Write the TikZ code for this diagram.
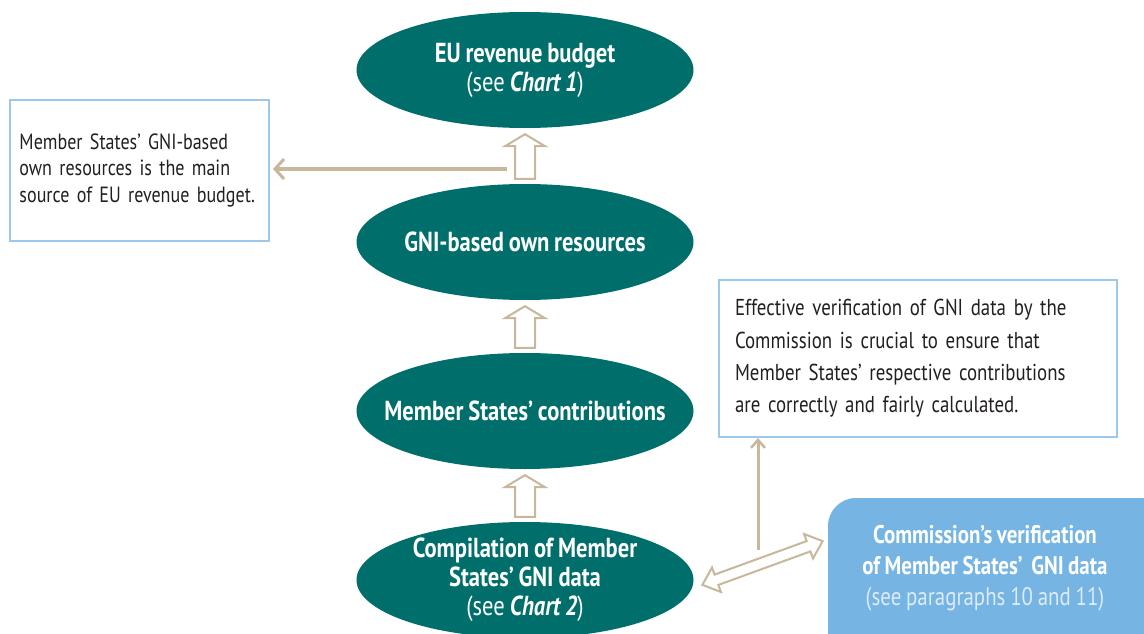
\documentclass[tikz,border=0pt]{standalone}
\usepackage{fontspec}
\setmainfont{PT Sans}[FakeStretch=0.82,WordSpace=0.85]
\usetikzlibrary{calc,arrows.meta,shapes.geometric}
\definecolor{teal}{HTML}{006F6B}
\definecolor{tanc}{HTML}{C8B79A}
\definecolor{boxblue}{HTML}{9CC8EC}
\definecolor{fillblue}{HTML}{76B5E3}
\definecolor{txt}{HTML}{231F20}
\definecolor{paler}{HTML}{DCEBF7}
\tikzset{
  oval/.style={ellipse, fill=teal, text=white, minimum width=337pt, minimum height=116pt, inner xsep=-80pt, inner ysep=-30pt, align=center, font=\fontsize{27.5}{29}\selectfont\bfseries},
  hollow/.style={draw=tanc, line width=2pt, fill=white, line join=miter},
  note/.style={draw=boxblue, line width=2pt, fill=white, text=txt, align=left},
}
\newcommand\hollowup[2]{%
  \draw[hollow] ($(#2.south)+(0,6)$) -- ++(20,12) -- ++(-10,0) -- ($(#1.north)+(10,-5)$) -- ++(-20,0) -- ($(#2.south)+(-10,18)$) -- ++(-10,0) -- cycle;}
\begin{document}
\begin{tikzpicture}[x=1pt,y=-1pt]
\useasboundingbox (0,0) rectangle (1144,634);
% ellipses
\node[oval] (e1) at (525,70) {EU revenue budget\\{\mdseries (see \textbf{\textit{Chart 1}})}};
\node[oval] (e2) at (525,242) {GNI-based own resources};
\node[oval] (e3) at (525,411) {Member States’ contributions};
\node[oval] (e4) at (525,580) {Compilation of Member\\States’ GNI data\\{\mdseries (see \textbf{\textit{Chart 2}})}};
% hollow arrows
\hollowup{e2}{e1}
\hollowup{e3}{e2}
\hollowup{e4}{e3}
% left note
\node[note, minimum width=259pt, minimum height=141pt, text width=240pt, inner sep=0pt, font=\fontsize{22}{27}\selectfont] (ln) at (139.5,170.5) {\mbox{Member States’ GNI-based}\\\mbox{own resources is the main}\\\mbox{source of EU revenue budget.}};
\coordinate (ls) at (507,169);
\draw[tanc, line width=4pt, -{Straight Barb[length=9pt,width=20pt,line width=3pt]}, shorten >=3pt] (ls) -- (ls -| ln.east);
% right note
\node[note, minimum width=398pt, minimum height=157pt, text width=366pt, inner sep=0pt, font=\fontsize{23}{32.4}\selectfont] (rn) at (918,358.5) {Effective verification of GNI data by the\\Commission is crucial to ensure that\\Member States’ respective contributions\\are correctly and fairly calculated.};
% blue box
\fill[fillblue, rounded corners=28pt] (828,498) rectangle (1175,670);
\node[text=white, align=center, font=\fontsize{25.5}{31}\selectfont\bfseries] (cv) at (985,568) {Commission’s verification\\of Member States’\,\ GNI data\\{\mdseries\color{paler}(see paragraphs 10 and 11)}};
% thin arrow up
\coordinate (ts) at (758,550);
\draw[tanc, line width=3pt, -{Straight Barb[length=8pt,width=14pt,line width=2.5pt]}] (ts) -- (ts |- rn.south);
% double hollow arrow
\coordinate (dl) at (702,585);
\coordinate (dr) at (823,541);
\begin{scope}[shift={($(dl)!0.5!(dr)$)}, rotate=20]
\draw[hollow] (-64,0) -- (-49,13) -- (-49,5.5) -- (49,5.5) -- (49,13) -- (64,0) -- (49,-13) -- (49,-5.5) -- (-49,-5.5) -- (-49,-13) -- cycle;
\end{scope}
\end{tikzpicture}
\end{document}
